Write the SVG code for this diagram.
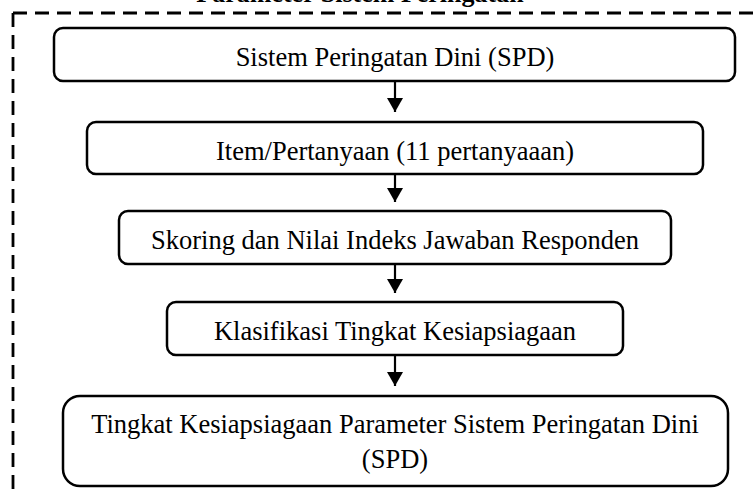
<svg xmlns="http://www.w3.org/2000/svg" width="756" height="497" viewBox="0 0 756 497">
<defs>
<style>
.box{fill:#fff;stroke:#000;stroke-width:2.5}
.t{font-family:"Liberation Serif","Times New Roman",serif;font-size:26.5px;fill:#000;text-anchor:middle}
.h{font-family:"Liberation Serif","Times New Roman",serif;font-size:26px;font-weight:bold;fill:#000;text-anchor:middle}
.dash{fill:none;stroke:#000;stroke-width:2.8;stroke-dasharray:14 8}
.conn{stroke:#000;stroke-width:2.2;fill:none}
</style>
<marker id="ah" viewBox="0 0 14 16" refX="14" refY="8" markerWidth="14" markerHeight="16" markerUnits="userSpaceOnUse" orient="auto">
<path d="M0,0 L14,8 L0,16 Z" fill="#000"/>
</marker>
</defs>
<rect width="756" height="497" fill="#fff"/>
<text class="h" x="360" y="2">Parameter Sistem Peringatan</text>
<g id="frame">
<path class="dash" d="M13,13 H760"/>
<path class="dash" d="M13,13 V500"/>
</g>
<g id="connectors">
<line class="conn" x1="395" y1="81" x2="395" y2="112" marker-end="url(#ah)"/>
<line class="conn" x1="395" y1="174" x2="395" y2="202" marker-end="url(#ah)"/>
<line class="conn" x1="395" y1="264" x2="395" y2="293" marker-end="url(#ah)"/>
<line class="conn" x1="395" y1="355" x2="395" y2="386" marker-end="url(#ah)"/>
</g>
<g id="n1">
<rect class="box" x="54" y="28" width="681" height="53" rx="9"/>
<text class="t" x="395" y="66">Sistem Peringatan Dini (SPD)</text>
</g>
<g id="n2">
<rect class="box" x="87" y="122" width="616" height="52" rx="9"/>
<text class="t" x="395" y="160">Item/Pertanyaan (11 pertanyaaan)</text>
</g>
<g id="n3">
<rect class="box" x="119" y="211" width="552" height="53" rx="9"/>
<text class="t" x="395" y="249">Skoring dan Nilai Indeks Jawaban Responden</text>
</g>
<g id="n4">
<rect class="box" x="167" y="302" width="456" height="53" rx="9"/>
<text class="t" x="395" y="340">Klasifikasi Tingkat Kesiapsiagaan</text>
</g>
<g id="n5">
<rect class="box" x="63" y="396" width="665" height="90" rx="17"/>
<text class="t" x="395" y="433">Tingkat Kesiapsiagaan Parameter Sistem Peringatan Dini</text>
<text class="t" x="395" y="468">(SPD)</text>
</g>
</svg>
